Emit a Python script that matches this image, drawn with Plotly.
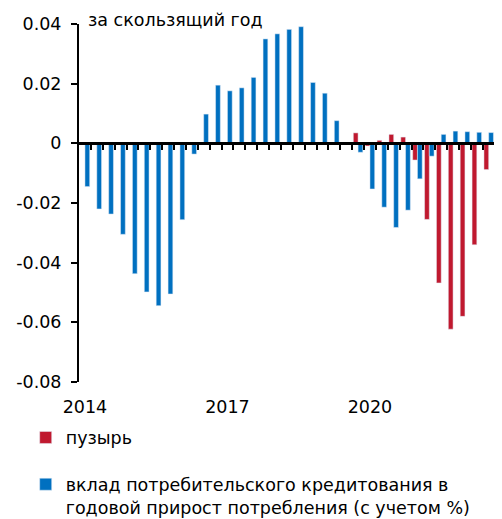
import plotly.graph_objects as go

# Quarterly categories starting 2014Q1
quarters = [f"{y}Q{q}" for y in range(2014, 2023) for q in range(1, 5)]
tick_labels = ["2014", "2017", "2020"]
tick_positions = [0, 12, 24]

# вклад потребительского кредитования (blue)
credit = [-0.0145, -0.0220, -0.0237, -0.0305, -0.0437, -0.0498, -0.0544, -0.0505,
          -0.0256, -0.0036, 0.0098, 0.0195, 0.0176, 0.0186, 0.0221, 0.0350,
          0.0367, 0.0382, 0.0391, 0.0204, 0.0168, 0.0076, 0.0, -0.0030,
          -0.0153, -0.0214, -0.0282, -0.0224, -0.0119, -0.0043, 0.0030, 0.0041,
          0.0039, 0.0037, 0.0036, 0.0032]
# пузырь (red)
bubble = [None] * 23 + [0.0035, -0.0009, 0.0010, 0.0030, 0.0021, -0.0056, -0.0255,
                        -0.0468, -0.0623, -0.0580, -0.0340, -0.0088, 0.0132]

idx = list(range(len(credit)))
FONT = "DejaVu Sans, Liberation Sans, Arial, sans-serif"
FS = 17.5
RED = "#C0192F"
BLUE = "#0070C0"

fig = go.Figure()
fig.add_trace(go.Bar(x=idx, y=bubble, name="пузырь", marker_color=RED,
                     legendgroup="a"))
fig.add_trace(go.Bar(x=idx, y=credit,
                     name="вклад потребительского кредитования в<br>годовой прирост потребления (с учетом %)",
                     marker_color=BLUE, legendgroup="b"))

xr = [-0.5, 35.12]
# the page body adds an 8px offset, so the figure is 8px smaller than the window
fig.update_layout(
    width=494, height=511,
    margin=dict(l=71, r=0, t=16, b=137, autoexpand=False),
    paper_bgcolor="white", plot_bgcolor="white",
    font=dict(family=FONT, size=FS, color="black"),
    barmode="group", bargap=0.2, bargroupgap=0.0,
    showlegend=True,
    legend=dict(x=-0.126, y=-0.105, xanchor="left", yanchor="top",
                traceorder="grouped", tracegroupgap=21, valign="top",
                font=dict(family=FONT, size=FS), itemwidth=30),
    xaxis=dict(range=xr, tickmode="array", tickvals=tick_positions,
               ticktext=tick_labels, showline=False, ticks="", showgrid=False,
               zeroline=False, ticklabelstandoff=12),
    xaxis2=dict(range=xr, overlaying="x", anchor="free", position=2/3,
                tickmode="array", tickvals=[i + 0.5 for i in idx],
                ticks="outside", ticklen=5, tickwidth=2, tickcolor="black",
                showticklabels=False, showline=True, linecolor="black",
                linewidth=2.5, showgrid=False, zeroline=False),
    yaxis=dict(range=[-0.08, 0.04], tickvals=[-0.08, -0.06, -0.04, -0.02, 0, 0.02, 0.04],
               ticktext=["-0.08", "-0.06", "-0.04", "-0.02", "0", "0.02", "0.04"],
               showline=True, linecolor="black", linewidth=2, ticks="outside",
               ticklen=6, tickwidth=2, tickcolor="black", showgrid=False,
               zeroline=False, ticklabelstandoff=6),
)
# invisible trace to activate the zero-line axis
fig.add_trace(go.Scatter(x=[xr[0]], y=[0], xaxis="x2", mode="markers",
                         marker=dict(opacity=0), showlegend=False, hoverinfo="skip"))

fig.add_annotation(text="за скользящий год", xref="paper", yref="paper",
                   x=0.0163, y=1.012, xanchor="left", yanchor="middle",
                   showarrow=False, font=dict(family=FONT, size=FS))

fig.write_html("out.html")
